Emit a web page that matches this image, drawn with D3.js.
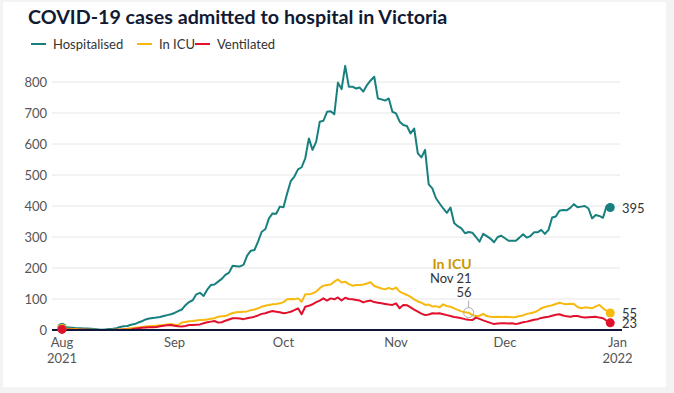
<!DOCTYPE html>
<html lang="en">
<head>
<meta charset="utf-8">
<title>COVID-19 hospital admissions</title>
<script src="https://d3js.org/d3.v7.min.js"></script>
<style>
  body { margin: 0; background: #f3f3f3; }
  svg { display: block; font-family: Lato, "Noto Sans", sans-serif; }
</style>
</head>
<body>
<script>
// daily values from 1 Aug 2021 to 30 Dec 2021
const startDate = new Date(2021, 7, 1)

const hospitalised = [
  8, 9, 8, 7, 6, 6, 5, 5, 4, 3, 2, 1, 2, 3, 4, 6, 10, 12, 13, 17,
  19, 24, 28, 34, 37, 39, 40, 42, 45, 48, 51, 55, 61, 66, 80, 90, 96, 115, 120, 110,
  130, 145, 147, 156, 165, 178, 185, 207, 206, 205, 210, 240, 256, 258, 285, 317, 325, 360, 376, 375,
  398, 396, 440, 480, 495, 518, 525, 554, 618, 581, 607, 672, 675, 704, 706, 696, 798, 777, 852, 785,
  785, 779, 782, 769, 790, 805, 817, 747, 744, 740, 747, 704, 699, 672, 661, 658, 634, 650, 570, 557,
  581, 470, 457, 425, 408, 392, 378, 395, 345, 335, 328, 312, 316, 314, 300, 285, 310, 303, 295, 283,
  300, 304, 296, 288, 288, 288, 298, 309, 298, 303, 315, 315, 323, 310, 323, 363, 366, 385, 387, 386,
  394, 406, 396, 398, 400, 392, 360, 371, 368, 362, 400, 395
]

const inICU = [
  5, 4, 4, 3, 3, 2, 2, 1, 1, 1, 0, 0, 0, 0, 1, 1, 2, 3, 4, 6,
  7, 8, 10, 11, 12, 13, 14, 15, 16, 18, 19, 17, 16, 24, 26, 28, 29, 31, 32, 32,
  34, 36, 38, 43, 44, 45, 50, 55, 57, 58, 59, 60, 64, 66, 70, 75, 78, 81, 83, 84,
  86, 90, 99, 100, 99, 102, 91, 115, 115, 118, 124, 135, 143, 145, 147, 156, 163, 153, 156, 148,
  143, 145, 145, 147, 150, 154, 142, 138, 134, 131, 136, 131, 137, 124, 118, 113, 107, 99, 92, 88,
  81, 82, 76, 77, 73, 83, 77, 75, 70, 65, 60, 57, 56, 48, 45, 46, 52, 45, 43, 42,
  43, 42, 43, 42, 41, 42, 45, 47, 52, 54, 57, 62, 70, 74, 77, 80, 84, 88, 85, 83,
  85, 84, 74, 70, 73, 72, 70, 76, 81, 70, 62, 55
]

const ventilated = [
  2, 2, 2, 1, 1, 1, 1, 1, 0, 0, 0, 0, 0, 0, 0, 1, 1, 1, 1, 2,
  4, 6, 7, 8, 9, 9, 10, 12, 14, 15, 16, 14, 12, 11, 13, 16, 16, 17, 18, 22,
  25, 27, 29, 24, 25, 30, 34, 38, 38, 37, 35, 38, 40, 43, 47, 52, 54, 58, 61, 59,
  57, 54, 56, 59, 64, 70, 51, 75, 78, 83, 90, 95, 102, 95, 102, 99, 105, 95, 104, 100,
  99, 97, 95, 89, 93, 95, 90, 88, 86, 84, 82, 81, 86, 70, 81, 80, 73, 66, 59, 53,
  48, 50, 54, 53, 54, 51, 48, 45, 42, 40, 38, 35, 33, 32, 40, 36, 31, 27, 23, 19,
  21, 22, 22, 21, 22, 19, 22, 25, 27, 30, 33, 35, 39, 41, 43, 46, 49, 51, 47, 44,
  43, 45, 45, 42, 40, 41, 42, 43, 40, 38, 30, 23
]

const seriesNames = ["Hospitalised", "In ICU", "Ventilated"]
const seriesColors = ["#17807e", "#f7b90e", "#e1112d"]
const yTicks = [0, 100, 200, 300, 400, 500, 600, 700, 800]
const monthTicks = [
  new Date(2021, 7, 1), new Date(2021, 8, 1), new Date(2021, 9, 1),
  new Date(2021, 10, 1), new Date(2021, 11, 1), new Date(2022, 0, 1)
]
const monthLabels = ["Aug", "Sep", "Oct", "Nov", "Dec", "Jan"]
const yearLabels = ["2021", "", "", "", "", "2022"]

// annotation on the ICU line
const noteDay = 112
const noteTitle = "In ICU"
const noteDate = "Nov 21"
const noteValue = 56

const W = 674, H = 393
const svg = d3.select("body").append("svg").attr("width", W).attr("height", H)

svg.append("rect").attr("x", 3).attr("y", 2).attr("width", 663).attr("height", 385).attr("fill", "white")

const x = d3.scaleTime().domain([monthTicks[0], monthTicks[5]]).range([62, 617.5])
const y = d3.scaleLinear().domain([0, 800]).range([330, 82])

const dayDate = i => d3.timeDay.offset(startDate, i)

// title + legend
svg.append("text").attr("x", 28).attr("y", 24)
  .attr("font-size", 19.7).attr("font-weight", 700).attr("fill", "#121a33")
  .text("COVID-19 cases admitted to hospital in Victoria")

const legendX = [31, 137, 195]
seriesNames.forEach((name, i) => {
  svg.append("line").attr("x1", legendX[i]).attr("x2", legendX[i] + 15)
    .attr("y1", 44).attr("y2", 44)
    .attr("stroke", seriesColors[i]).attr("stroke-width", 2)
  svg.append("text").attr("x", legendX[i] + 22).attr("y", 48.5)
    .attr("font-size", 13).attr("fill", "#333").text(name)
})

// grid + y labels
svg.append("g").selectAll("line").data(yTicks.slice(1)).join("line")
  .attr("x1", 52).attr("x2", 620)
  .attr("y1", d => y(d)).attr("y2", d => y(d))
  .attr("stroke", "#e6e6e6").attr("stroke-width", 1)

svg.append("g").selectAll("text").data(yTicks).join("text")
  .attr("x", 47).attr("y", d => y(d) + 4.5)
  .attr("text-anchor", "end").attr("font-size", 13).attr("fill", "#555")
  .text(d => d)

// x labels
const xg = svg.append("g")
xg.selectAll("text.m").data(monthTicks).join("text").attr("class", "m")
  .attr("x", d => x(d)).attr("y", 347)
  .attr("text-anchor", "middle").attr("font-size", 13).attr("fill", "#555")
  .text((d, i) => monthLabels[i])
xg.selectAll("text.yr").data(monthTicks).join("text").attr("class", "yr")
  .attr("x", d => x(d)).attr("y", 363)
  .attr("text-anchor", "middle").attr("font-size", 13).attr("fill", "#555")
  .text((d, i) => yearLabels[i])

// lines
const line = d3.line().x((d, i) => x(dayDate(i))).y(d => y(d))
const allSeries = [hospitalised, inICU, ventilated]

;[0, 1, 2].forEach(k => {
  svg.append("path").datum(allSeries[k])
    .attr("fill", "none").attr("stroke", seriesColors[k])
    .attr("stroke-width", 2).attr("stroke-linejoin", "round")
    .attr("d", line)
})

// baseline
svg.append("line").attr("x1", 52).attr("x2", 622).attr("y1", y(0)).attr("y2", y(0))
  .attr("stroke", "#10163a").attr("stroke-width", 2)

// start and end dots, end labels
allSeries.forEach((s, k) => {
  const last = s.length - 1
  svg.append("circle").attr("cx", x(dayDate(0))).attr("cy", y(s[0])).attr("r", 4.5).attr("fill", seriesColors[k])
  svg.append("circle").attr("cx", x(dayDate(last))).attr("cy", y(s[last])).attr("r", 4.5).attr("fill", seriesColors[k])
  svg.append("text").attr("x", 622).attr("y", y(s[last]) + 5.5)
    .attr("font-size", 13).attr("fill", "#333").text(s[last])
})

// annotation
const nx = x(dayDate(noteDay)), ny = y(noteValue)
svg.append("line").attr("x1", nx).attr("x2", nx).attr("y1", ny - 5).attr("y2", ny - 12)
  .attr("stroke", "#aaa").attr("stroke-width", 1)
svg.append("circle").attr("cx", nx).attr("cy", ny).attr("r", 5)
  .attr("fill", "none").attr("stroke", "#aaa").attr("stroke-width", 1)
svg.append("text").attr("x", nx + 3).attr("y", 269).attr("text-anchor", "end")
  .attr("font-size", 14).attr("font-weight", 700).attr("fill", "#c99700").text(noteTitle)
svg.append("text").attr("x", nx + 3).attr("y", 283).attr("text-anchor", "end")
  .attr("font-size", 13).attr("fill", "#333").text(noteDate)
svg.append("text").attr("x", nx + 3).attr("y", 297).attr("text-anchor", "end")
  .attr("font-size", 13).attr("fill", "#333").text(noteValue)
</script>
</body>
</html>
